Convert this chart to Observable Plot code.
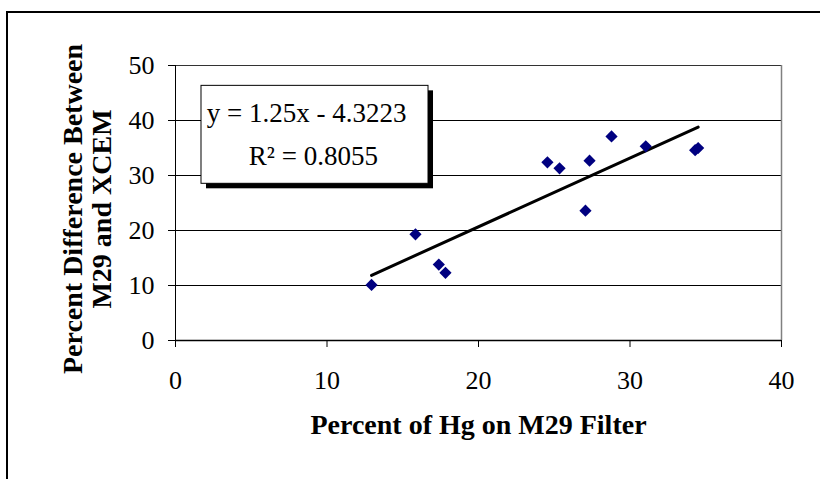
<!DOCTYPE html>
<html>
<head>
<meta charset="utf-8">
<script src="https://cdn.jsdelivr.net/npm/d3@7"></script>
<script src="https://cdn.jsdelivr.net/npm/@observablehq/plot@0.6"></script>
<style>
  html, body { margin: 0; padding: 0; background: #fff; }
  #wrap { position: relative; width: 820px; height: 479px; overflow: hidden; }
  #border { position: absolute; left: 6px; top: 11px; width: 900px; height: 600px;
            border-left: 2px solid #000; border-top: 2px solid #000; pointer-events: none; }
</style>
</head>
<body>
<div id="wrap"><div id="chart"></div><div id="border"></div></div>
<script>
// Data
const hgOnFilter = [12.94, 15.84, 17.38, 17.82, 24.55, 25.35, 27.06, 27.33, 28.78, 31.04, 34.3, 34.5];
const pctDifference = [10.1, 19.3, 13.8, 12.3, 32.4, 31.3, 23.6, 32.7, 37.1, 35.3, 34.6, 35.0];
// Linear trend line endpoints (y = 1.25x - 4.3223)
const trendX = [12.94, 34.5];
const trendY = [11.85, 38.8];
const xTicks = [0, 10, 20, 30, 40];
const yTicks = [0, 10, 20, 30, 40, 50];
const gridY = [10, 20, 30, 40];
const equationText = "y = 1.25x - 4.3223";
const r2Text = "R\u00B2 = 0.8055";
const xLabel = "Percent of Hg on M29 Filter";
const yLabel = "Percent Difference Between\nM29 and XCEM";

const points = hgOnFilter.map((x, i) => ({x, y: pctDifference[i]}));
const trend = trendX.map((x, i) => ({x, y: trendY[i]}));

const serif = "Liberation Serif, Times New Roman, serif";

const chart = Plot.plot({
  width: 820,
  height: 479,
  marginLeft: 175,
  marginRight: 39,
  marginTop: 65,
  marginBottom: 139,
  style: {fontFamily: serif, fontSize: "26px", color: "#000", background: "transparent", overflow: "visible"},
  x: {domain: [0, 40]},
  y: {domain: [0, 50]},
  marks: [
    Plot.ruleY(gridY, {stroke: "#000", strokeWidth: 1}),
    Plot.ruleY([50], {stroke: "#333", strokeWidth: 1}),
    Plot.ruleX([40], {stroke: "#808080", strokeWidth: 1.5}),
    Plot.ruleX([0], {stroke: "#000", strokeWidth: 1}),
    Plot.ruleY([0], {stroke: "#000", strokeWidth: 1.5}),
    Plot.axisX({ticks: xTicks, tickSize: 7, tickPadding: 23, label: null, fontSize: 26, fontFamily: serif}),
    Plot.axisY({ticks: yTicks, tickSize: 7, tickPadding: 14, label: null, fontSize: 26, fontFamily: serif}),
    Plot.line(trend, {x: "x", y: "y", stroke: "#000", strokeWidth: 3}),
    Plot.dot(points, {x: "x", y: "y", symbol: "diamond2", r: 5.5, fill: "#000080", stroke: "none"}),
    // Equation box with shadow
    Plot.rect([0], {x1: 1.716, x2: 16.70, y1: 28.49, y2: 46.3, fill: "#000", dx: 5, dy: 5}),
    Plot.rect([0], {x1: 1.716, x2: 16.70, y1: 28.49, y2: 46.3, fill: "#fff", stroke: "#000", strokeWidth: 1}),
    Plot.text([equationText], {x: 8.65, y: 39.79, text: d => d, lineAnchor: "bottom", fontSize: 27, fontFamily: serif, fill: "#000"}),
    Plot.text([r2Text], {x: 9.1, y: 31.9, text: d => d, lineAnchor: "bottom", fontSize: 27, fontFamily: serif, fill: "#000"}),
    // Axis titles
    Plot.text([xLabel], {frameAnchor: "bottom", text: d => d, lineAnchor: "bottom", dy: 93, fontSize: 28, fontWeight: "bold", fontFamily: serif, fill: "#000"}),
    Plot.text([yLabel], {frameAnchor: "left", text: d => d, rotate: -90, textAnchor: "middle", lineAnchor: "bottom", lineHeight: 1.036, dx: -64.3, dy: 6, fontSize: 28, fontWeight: "bold", fontFamily: serif, fill: "#000"})
  ]
});
document.getElementById("chart").appendChild(chart);
</script>
</body>
</html>
